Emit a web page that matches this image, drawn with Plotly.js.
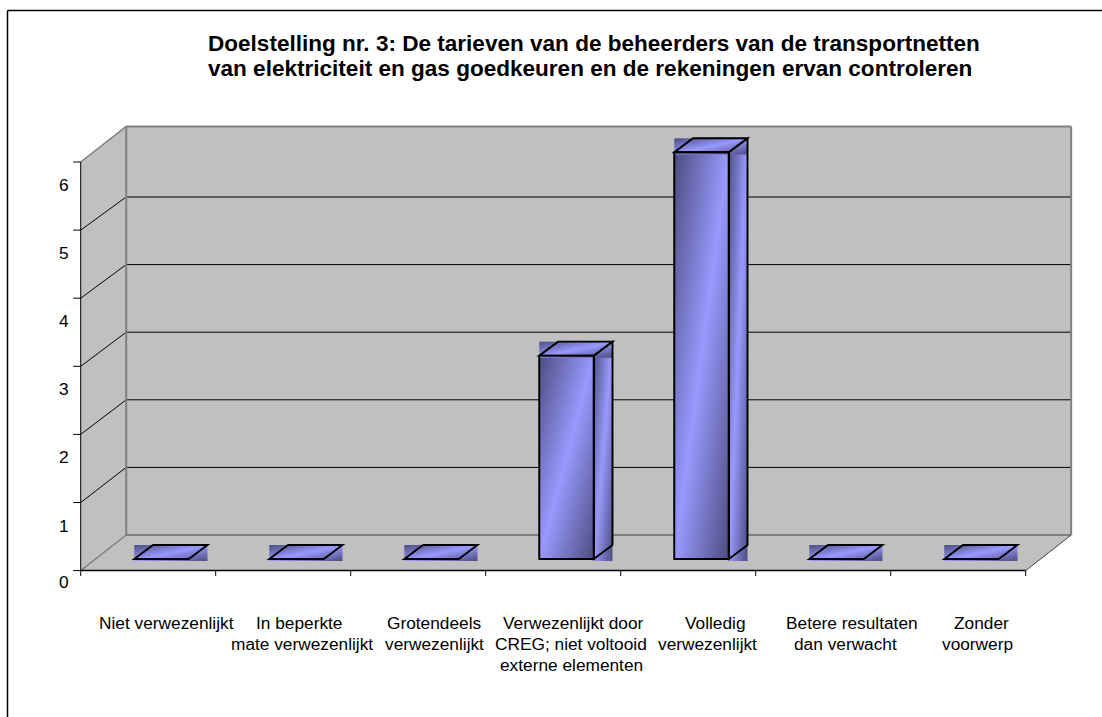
<!DOCTYPE html>
<html>
<head>
<meta charset="utf-8">
<script src="https://cdn.plot.ly/plotly-3.0.1.min.js"></script>
<style>html,body{margin:0;padding:0;background:#fff}#chart{width:1102px;height:717px}</style>
</head>
<body>
<div id="chart"></div>
<script>
const categories = [
  "Niet verwezenlijkt",
  "In beperkte<br>mate verwezenlijkt",
  "Grotendeels<br>verwezenlijkt",
  "Verwezenlijkt door<br>CREG; niet voltooid<br>externe elementen",
  "Volledig<br>verwezenlijkt",
  "Betere resultaten<br>dan verwacht",
  "Zonder<br>voorwerp"
];
const values = [0, 0, 0, 3, 6, 0, 0];
const yTicks = [0, 1, 2, 3, 4, 5, 6];
const titleLines = [
  "Doelstelling nr. 3: De tarieven van de beheerders van de transportnetten",
  "van elektriciteit en gas goedkeuren en de rekeningen ervan controleren"
];

// --- frame geometry (pixels of the page) ---
const W = 1102, H = 717;
const plotL = 70, plotR = 1080, plotT = 120, plotB = 576;
const originX = 80.7, originY = 570.6;
const catPx = 135, unitPx = 68.1;
const wallDxPx = 45.5, wallDyPx = 35.6, backScale = 67.6 / 68.1;
const barUnitPx = 67.78, barBaseY = 559;
const barLeft = 53.6 / catPx, barW = 54.5 / catPx;
const barDepthX = 18.7 / catPx, barDepthY = 14 / barUnitPx, below = 2 / barUnitPx;
const wallDx = wallDxPx / catPx, wallDy = wallDyPx / unitPx;
const x0 = -0.5, x7 = x0 + categories.length, yT = yTicks[yTicks.length - 1];
const xMin = x0 - (originX - plotL) / catPx, xMax = x0 + (plotR - originX) / catPx;
const yMin = (originY - plotB) / unitPx, yMax = (originY - plotT) / unitPx;
const y2Min = (barBaseY - plotB) / barUnitPx, y2Max = (barBaseY - plotT) / barUnitPx;
const labelFont = {family: 'Liberation Sans, Arial, sans-serif', size: 17.3, color: '#000'};
// horizontal centre of every label line in the original
const lineCentres = [[166.5], [298.5, 302], [434, 434.5], [573, 571, 571], [715, 707], [852, 845], [981, 977]];
const lineRows = [623, 644, 665];
const titleRows = [43, 69], titleLeft = 206.5;

function gradient() {
  const c = document.createElement('canvas');
  c.width = c.height = 128;
  const g = c.getContext('2d');
  const lg = g.createLinearGradient(0, 0, 128, 128);
  lg.addColorStop(0, '#4d4d80');
  lg.addColorStop(0.5, '#9999ff');
  lg.addColorStop(1, '#4d4d80');
  g.fillStyle = lg;
  g.fillRect(0, 0, 128, 128);
  return c.toDataURL('image/png');
}
const grad = gradient();

const shapes = [], images = [], annotations = [];
const WALL = '#c0c0c0', EDGE = '#808080', NONE = 'rgba(0,0,0,0)';
const OUTLINE = 1.9;

function poly(pts, yref, fill, color, width, layer) {
  shapes.push({
    type: 'path', xref: 'x', yref, layer,
    path: 'M' + pts.map(p => p[0] + ' ' + p[1]).join('L') + 'Z',
    fillcolor: fill, line: {color: color, width: width}
  });
}
function seg(xa, ya, xb, yb, color, width) {
  shapes.push({type: 'line', xref: 'x', yref: 'y', x0: xa, y0: ya, x1: xb, y1: yb, layer: 'below',
    line: {color, width}});
}
const bx = x0 + wallDx, bxR = x7 + wallDx, byT = yT + wallDy;

// walls and floor
poly([[x0, 0], [x0, yT], [bx, byT], [bx, wallDy]], 'y', WALL, NONE, 0, 'below');
poly([[bx, wallDy], [bx, byT], [bxR, byT], [bxR, wallDy]], 'y', WALL, NONE, 0, 'below');
poly([[x0, 0], [bx, wallDy], [bxR, wallDy], [x7, 0]], 'y', WALL, NONE, 0, 'below');
// gridlines
yTicks.slice(1, -1).forEach(v => {
  const yb = wallDy + v * backScale;
  seg(x0, v, bx, yb, '#000', 1);
  seg(bx, yb, bxR, yb, '#000', 1);
});
// wall edges
seg(x0, yT, bx, byT, EDGE, 1.5);
seg(bx, byT, bxR, byT, EDGE, 2);
seg(bx, wallDy, bx, byT, EDGE, 2);
seg(bxR, wallDy, bxR, byT, EDGE, 2);
seg(bx, wallDy, bxR, wallDy, EDGE, 2);
seg(x0, 0, bx, wallDy, EDGE, 1.5);
seg(x7, 0, bxR, wallDy, '#404040', 1);
// axis lines
seg(x0, 0, x7, 0, '#000', 1.5);
seg(x0, 0, x0, yT, '#000', 1);

function img(x, yTop, sx, sy) {
  images.push({source: grad, xref: 'x', yref: 'y2', x, y: yTop, sizex: sx, sizey: sy,
    xanchor: 'left', yanchor: 'top', sizing: 'stretch', layer: 'above'});
}
values.forEach((v, k) => {
  const a = k + x0 + barLeft, b = a + barW, c = b + barDepthX, d = a + barDepthX;
  if (v > 0) {
    img(a, v, barW, v);
    img(b, v + barDepthY, barDepthX, v + barDepthY + below);
    poly([[a, 0], [b, 0], [b, v], [a, v]], 'y2', NONE, '#000', OUTLINE, 'above');
    poly([[b, 0], [c, barDepthY], [c, v + barDepthY], [b, v]], 'y2', NONE, '#000', OUTLINE, 'above');
  }
  img(a, v + barDepthY, barW + barDepthX, barDepthY + below);
  poly([[a, v], [b, v], [c, v + barDepthY], [d, v + barDepthY]], 'y2', NONE, '#000', OUTLINE, 'above');
});

// outer frame (top and left only)
const fx = px => (px - plotL) / (plotR - plotL);
const fy = py => (plotB - py) / (plotB - plotT);
shapes.push({type: 'line', xref: 'paper', yref: 'paper', x0: fx(7.5), x1: fx(W), y0: fy(10.5), y1: fy(10.5), line: {color: '#000', width: 1.5}, layer: 'above'});
shapes.push({type: 'line', xref: 'paper', yref: 'paper', x0: fx(7.5), x1: fx(7.5), y0: fy(10.5), y1: fy(H), line: {color: '#000', width: 1.5}, layer: 'above'});

// value labels (drawn below their ticks, as in the original)
yTicks.forEach(v => annotations.push({
  xref: 'x', yref: 'y', x: x0, y: v, text: String(v), showarrow: false,
  xanchor: 'right', yanchor: 'middle', xshift: -10.5, yshift: v === 0 ? -11 : -23,
  font: labelFont, borderpad: 0
}));
// category labels, one annotation per line
categories.forEach((t, k) => t.split('<br>').forEach((line, i) => annotations.push({
  xref: 'paper', yref: 'paper', x: fx(lineCentres[k][i]), y: fy(lineRows[i]), text: line, showarrow: false,
  xanchor: 'center', yanchor: 'middle', font: labelFont, borderpad: 0
})));
// title
titleLines.forEach((line, i) => annotations.push({
  xref: 'paper', yref: 'paper', x: fx(titleLeft), y: fy(titleRows[i]), text: '<b>' + line + '</b>', showarrow: false,
  xanchor: 'left', yanchor: 'middle', borderpad: 0,
  font: {family: 'Liberation Sans, Arial, sans-serif', size: 22.55, color: '#000'}
}));

const data = [{
  type: 'bar', x: categories, y: values, xaxis: 'x', yaxis: 'y2',
  offset: x0 + barLeft, width: barW,
  marker: {color: '#9999ff', line: {color: '#000', width: 1}},
  hoverinfo: 'x+y', showlegend: false
}];

const layout = {
  width: W, height: H, autosize: false, showlegend: false,
  paper_bgcolor: '#fff', plot_bgcolor: 'rgba(0,0,0,0)',
  margin: {l: plotL, r: W - plotR, t: plotT, b: H - plotB, pad: 0},
  xaxis: {
    type: 'category', categoryorder: 'array', categoryarray: categories,
    range: [xMin, xMax], tickson: 'boundaries', ticks: 'outside', ticklen: 8,
    tickcolor: 'rgba(0,0,0,0)', showticklabels: false, showgrid: false,
    zeroline: false, showline: false, fixedrange: true
  },
  yaxis: {
    range: [yMin, yMax], tickmode: 'array', tickvals: [], showticklabels: false, showgrid: false,
    zeroline: false, showline: false, fixedrange: true
  },
  yaxis2: {
    overlaying: 'y', range: [y2Min, y2Max], visible: false, showgrid: false,
    zeroline: false, fixedrange: true
  },
  shapes, images, annotations
};
// tick marks: the axes' own ticks would sit at the plot edge, so they are drawn from the same scales
const tickShapes = [];
yTicks.forEach(v => tickShapes.push({type: 'line', xref: 'x', yref: 'y', x0: x0 - 7.5 / catPx, x1: x0, y0: v, y1: v, line: {color: '#000', width: 1}, layer: 'below'}));
categories.concat(['']).forEach((_, k) => tickShapes.push({type: 'line', xref: 'x', yref: 'y', x0: x0 + k, x1: x0 + k, y0: 0, y1: -6.5 / unitPx, line: {color: '#000', width: 1}, layer: 'below'}));
layout.shapes = layout.shapes.concat(tickShapes);
Plotly.newPlot('chart', data, layout, {displayModeBar: false, responsive: false});
</script>
</body>
</html>
